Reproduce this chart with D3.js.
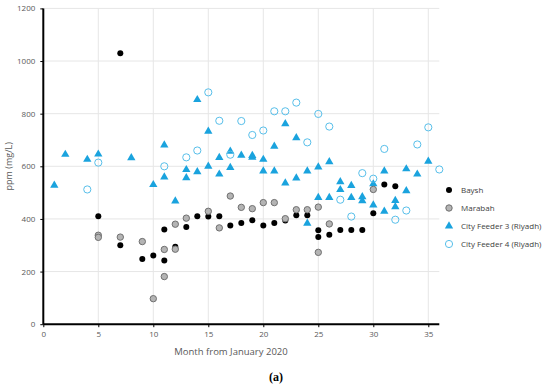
<!DOCTYPE html>
<html>
<head>
<meta charset="utf-8">
<script src="https://cdn.jsdelivr.net/npm/d3@7"></script>
<style>
  body { margin: 0; background: #fff; }
  svg { display: block; }
  text { font-family: "Open Sans", "Liberation Sans", sans-serif; }
</style>
</head>
<body>
<svg id="chart" width="550" height="387"></svg>
<script>
// series values: [month, ppm]
var baysh = [
  [5, 410], [7, 300], [7, 1030], [9, 248], [10, 261], [11, 360], [11, 242],
  [12, 294], [13, 369], [14, 410], [15, 409], [16, 410], [17, 375], [18, 385],
  [19, 395], [20, 375], [21, 385], [22, 394], [23, 414], [24, 414], [25, 357],
  [25, 331], [26, 340], [27, 358], [28, 358], [29, 358], [30, 422], [31, 531],
  [32, 524]
]
var marabah = [
  [5, 338], [5, 330], [7, 331], [9, 314], [10, 97], [11, 284], [11, 181],
  [12, 380], [12, 285], [13, 403], [15, 429], [16, 366], [17, 487], [18, 444],
  [19, 439], [20, 462], [21, 462], [22, 401], [23, 435], [24, 435], [25, 445],
  [25, 273], [26, 381], [30, 512]
]
var feeder3 = [
  [1, 528], [2, 645], [4, 626], [5, 646], [8, 632], [10, 530], [11, 559],
  [11, 681], [12, 468], [13, 587], [13, 556], [14, 853], [14, 579], [15, 733],
  [15, 600], [16, 633], [16, 570], [17, 657], [17, 595], [18, 642], [19, 641],
  [19, 634], [20, 626], [20, 582], [21, 676], [21, 582], [22, 761], [22, 536],
  [23, 708], [23, 555], [24, 582], [24, 383], [25, 597], [25, 481], [26, 617],
  [26, 481], [27, 541], [27, 511], [28, 527], [28, 481], [29, 484], [29, 469],
  [30, 533], [30, 453], [31, 582], [31, 429], [32, 470], [32, 446], [33, 590],
  [33, 507], [34, 570], [35, 619]
]
var feeder4 = [
  [4, 512], [5, 614], [11, 600], [13, 634], [14, 660], [15, 881], [16, 773],
  [17, 644], [18, 772], [19, 719], [20, 736], [21, 809], [22, 809], [23, 842],
  [24, 691], [25, 799], [26, 751], [27, 473], [28, 409], [29, 574], [30, 553],
  [31, 666], [32, 397], [33, 432], [34, 683], [35, 748], [36, 588]
]
var seriesNames = ['Baysh', 'Marabah', 'City Feeder 3 (Riyadh)', 'City Feeder 4 (Riyadh)']
var xTicks = [0, 5, 10, 15, 20, 25, 30, 35]
var yTicks = [0, 200, 400, 600, 800, 1000, 1200]

var blue = '#1aa3de'
var lightBlue = '#58bfea'

var svg = d3.select('#chart')
var x = d3.scaleLinear().domain([0, 36]).range([43.3, 439.3])
var y = d3.scaleLinear().domain([0, 1200]).range([324.2, 8.4])

// gridlines
svg.append('g')
  .selectAll('line')
  .data(yTicks.slice(1))
  .join('line')
  .attr('x1', x(0)).attr('x2', x(36))
  .attr('y1', d => y(d)).attr('y2', d => y(d))
  .attr('stroke', '#e6e6e6').attr('stroke-width', 1)
svg.append('g')
  .selectAll('line')
  .data(xTicks.slice(1))
  .join('line')
  .attr('x1', d => x(d)).attr('x2', d => x(d))
  .attr('y1', y(0)).attr('y2', y(1200))
  .attr('stroke', '#e6e6e6').attr('stroke-width', 1)

// axes
var xAxis = svg.append('g')
  .attr('transform', 'translate(0,' + y(0) + ')')
  .call(d3.axisBottom(x).tickValues(xTicks).tickFormat(d3.format('d')).tickSize(3).tickPadding(4))
var yAxis = svg.append('g')
  .attr('transform', 'translate(' + x(0) + ',0)')
  .call(d3.axisLeft(y).tickValues(yTicks).tickFormat(d3.format('d')).tickSize(3).tickPadding(5))
;[xAxis, yAxis].forEach(function(g) {
  g.select('.domain').attr('stroke', '#000').attr('stroke-width', 2)
  g.selectAll('.tick line').attr('stroke', '#000').attr('stroke-width', 1)
  g.selectAll('.tick text').attr('fill', '#595959').style('font-size', '8px')
})
xAxis.select('.domain').attr('d', 'M' + x(0) + ',0H' + x(36))
yAxis.select('.domain').attr('d', 'M0,' + y(0) + 'V' + y(1200))

// axis titles
svg.append('text')
  .attr('transform', 'translate(12,' + y(600) + ') rotate(-90)')
  .attr('text-anchor', 'middle')
  .attr('fill', '#595959')
  .style('font-size', '9px')
  .text('ppm (mg/L)')
svg.append('text')
  .attr('x', 231).attr('y', 355)
  .attr('text-anchor', 'middle')
  .attr('fill', '#595959')
  .style('font-size', '9.5px')
  .text('Month from January 2020')
svg.append('text')
  .attr('x', 276).attr('y', 381)
  .attr('text-anchor', 'middle')
  .attr('fill', '#000')
  .style('font-family', '"Liberation Serif", "DejaVu Serif", serif')
  .style('font-weight', 'bold')
  .style('font-size', '12px')
  .text('(a)')

// markers
var tri = d3.symbol().type(d3.symbolTriangle).size(30)

function drawBlack(g) {
  g.attr('r', 3).attr('fill', '#000')
}
function drawGray(g) {
  g.attr('r', 3.2).attr('fill', '#b4b4b4').attr('stroke', '#707070').attr('stroke-width', 1)
}
function drawOpen(g) {
  g.attr('r', 3.6).attr('fill', 'none').attr('stroke', lightBlue).attr('stroke-width', 1)
}
function drawTri(g) {
  g.attr('d', tri).attr('fill', blue)
}

svg.append('g').selectAll('path')
  .data(feeder3).join('path')
  .attr('transform', d => 'translate(' + x(d[0]) + ',' + y(d[1]) + ')')
  .call(drawTri)
svg.append('g').selectAll('circle')
  .data(feeder4).join('circle')
  .attr('cx', d => x(d[0])).attr('cy', d => y(d[1]))
  .call(drawOpen)
svg.append('g').selectAll('circle')
  .data(baysh).join('circle')
  .attr('cx', d => x(d[0])).attr('cy', d => y(d[1]))
  .call(drawBlack)
svg.append('g').selectAll('circle')
  .data(marabah).join('circle')
  .attr('cx', d => x(d[0])).attr('cy', d => y(d[1]))
  .call(drawGray)

// legend
var legend = svg.append('g').attr('transform', 'translate(449,190)')
var items = legend.selectAll('g')
  .data(seriesNames).join('g')
  .attr('transform', (d, i) => 'translate(0,' + i * 18 + ')')
items.each(function(d, i) {
  var g = d3.select(this)
  if (i === 0) g.append('circle').call(drawBlack)
  if (i === 1) g.append('circle').call(drawGray)
  if (i === 2) g.append('path').call(drawTri)
  if (i === 3) g.append('circle').call(drawOpen)
})
items.append('text')
  .attr('x', 12).attr('y', 3)
  .attr('fill', '#404040')
  .style('font-size', '8px')
  .text(d => d)
</script>
</body>
</html>
